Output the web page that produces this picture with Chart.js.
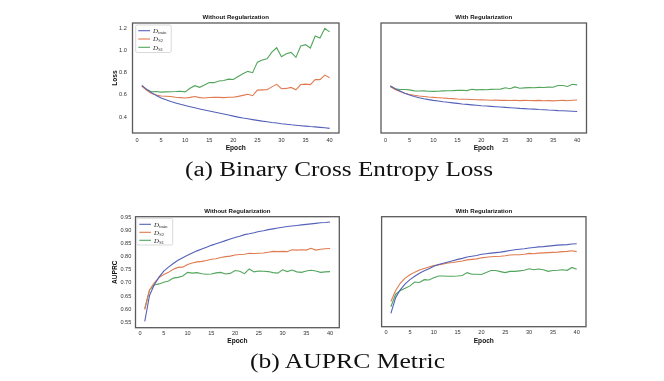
<!DOCTYPE html>
<html><head><meta charset="utf-8">
<script src="https://cdn.jsdelivr.net/npm/chart.js@4.4.0/dist/chart.umd.min.js"></script>
<style>
html,body{margin:0;padding:0;background:#fff;}
body{width:664px;height:381px;position:relative;overflow:hidden;}
canvas{position:absolute;}
.cap{position:absolute;font-family:"Liberation Serif","DejaVu Serif",serif;font-size:20px;line-height:20px;color:#111;white-space:nowrap;transform-origin:0 0;}
</style></head><body>
<canvas id="c1"></canvas><canvas id="c2"></canvas><canvas id="c3"></canvas><canvas id="c4"></canvas>
<div class="cap" id="capA">(a) Binary Cross Entropy Loss</div>
<div class="cap" id="capB">(b) AUPRC Metric</div>
<script>
// ---------- data ----------
const epochs = [1,2,3,4,5,6,7,8,9,10,11,12,13,14,15,16,17,18,19,20,21,22,23,24,25,26,27,28,29,30,31,32,33,34,35,36,37,38,39,40];
const xTicks = [0,5,10,15,20,25,30,35,40];
const lossTicks = [0.4,0.6,0.8,1.0,1.2];
const auprcTicks = [0.55,0.60,0.65,0.70,0.75,0.80,0.85,0.90,0.95];
const seriesNames = ["train","S2","S1"];
const panelTitles = ["Without Regularization","With Regularization"];

const trainLossNoReg = [0.685,0.650,0.620,0.595,0.572,0.555,0.540,0.527,0.515,0.504,0.493,0.483,0.473,0.464,0.455,0.446,0.437,0.428,0.418,0.408,0.399,0.391,0.384,0.377,0.370,0.363,0.357,0.351,0.346,0.340,0.335,0.330,0.326,0.322,0.318,0.314,0.311,0.307,0.303,0.298];
const s2LossNoReg = [0.680,0.640,0.612,0.598,0.590,0.588,0.585,0.578,0.575,0.572,0.577,0.585,0.575,0.572,0.576,0.578,0.577,0.575,0.578,0.578,0.586,0.595,0.605,0.592,0.643,0.645,0.646,0.672,0.695,0.655,0.658,0.667,0.645,0.693,0.697,0.692,0.738,0.737,0.778,0.755];
const s1LossNoReg = [0.680,0.645,0.628,0.630,0.625,0.627,0.628,0.630,0.633,0.627,0.660,0.683,0.668,0.688,0.712,0.710,0.725,0.730,0.742,0.738,0.765,0.790,0.812,0.800,0.895,0.915,0.925,0.985,1.025,0.943,0.970,0.983,0.938,1.040,1.053,1.022,1.130,1.112,1.200,1.168];

const trainLossReg = [0.680,0.655,0.635,0.615,0.598,0.585,0.574,0.565,0.557,0.550,0.544,0.538,0.533,0.528,0.523,0.518,0.514,0.510,0.506,0.502,0.499,0.496,0.493,0.490,0.487,0.484,0.481,0.478,0.476,0.473,0.471,0.468,0.466,0.463,0.461,0.458,0.456,0.454,0.452,0.450];
const s2LossReg = [0.672,0.648,0.630,0.615,0.603,0.596,0.590,0.585,0.580,0.577,0.574,0.571,0.568,0.566,0.563,0.561,0.560,0.558,0.556,0.555,0.554,0.552,0.553,0.550,0.551,0.549,0.552,0.548,0.550,0.549,0.548,0.550,0.547,0.548,0.546,0.549,0.550,0.547,0.551,0.553];
const s1LossReg = [0.680,0.655,0.648,0.648,0.645,0.636,0.635,0.636,0.633,0.631,0.633,0.636,0.637,0.638,0.640,0.641,0.638,0.650,0.645,0.648,0.646,0.649,0.650,0.652,0.664,0.655,0.672,0.660,0.663,0.665,0.664,0.667,0.666,0.670,0.668,0.685,0.684,0.675,0.695,0.690];

const trainAuprcNoReg = [0.553,0.652,0.693,0.722,0.745,0.760,0.774,0.786,0.796,0.805,0.814,0.822,0.829,0.836,0.843,0.849,0.855,0.861,0.867,0.873,0.878,0.884,0.887,0.891,0.896,0.899,0.903,0.906,0.909,0.912,0.915,0.917,0.919,0.921,0.923,0.925,0.927,0.929,0.930,0.932];
const s2AuprcNoReg = [0.598,0.673,0.700,0.720,0.732,0.740,0.752,0.759,0.760,0.770,0.776,0.780,0.782,0.785,0.790,0.792,0.797,0.800,0.802,0.806,0.808,0.809,0.813,0.812,0.813,0.814,0.817,0.820,0.819,0.820,0.819,0.826,0.825,0.826,0.825,0.832,0.825,0.828,0.830,0.831];
const s1AuprcNoReg = [0.603,0.673,0.692,0.696,0.702,0.707,0.718,0.721,0.726,0.740,0.737,0.739,0.735,0.733,0.734,0.738,0.740,0.734,0.736,0.747,0.744,0.735,0.753,0.742,0.745,0.744,0.743,0.739,0.737,0.750,0.743,0.749,0.742,0.740,0.745,0.748,0.745,0.740,0.742,0.743];

const trainAuprcReg = [0.580,0.641,0.672,0.694,0.710,0.723,0.735,0.744,0.752,0.762,0.768,0.773,0.778,0.783,0.788,0.792,0.797,0.800,0.803,0.808,0.810,0.812,0.814,0.816,0.819,0.822,0.825,0.827,0.829,0.832,0.834,0.836,0.837,0.839,0.841,0.843,0.844,0.845,0.847,0.848];
const s2AuprcReg = [0.626,0.668,0.697,0.716,0.729,0.739,0.747,0.753,0.759,0.764,0.767,0.770,0.774,0.776,0.779,0.782,0.786,0.788,0.790,0.794,0.796,0.798,0.799,0.800,0.802,0.805,0.806,0.806,0.808,0.811,0.810,0.812,0.813,0.814,0.815,0.816,0.818,0.819,0.821,0.818];
const s1AuprcReg = [0.606,0.654,0.668,0.677,0.686,0.701,0.699,0.710,0.709,0.717,0.724,0.724,0.723,0.723,0.724,0.726,0.737,0.731,0.731,0.730,0.738,0.745,0.745,0.741,0.737,0.742,0.742,0.744,0.746,0.752,0.748,0.751,0.748,0.742,0.745,0.746,0.748,0.746,0.757,0.750];

// ---------- styling ----------
const COLORS = ['#5461b8','#e07b4f','#52a65c'];
const TICK_FONT = {family:'"Liberation Sans", Arial, sans-serif', size:5.6};
const LABEL_FONT = {family:'"Liberation Sans", Arial, sans-serif', size:6.6, weight:'bold'};

const framePlugin = {
  id:'framePlugin',
  afterDraw(chart){
    const a = chart.chartArea, ctx = chart.ctx, o = chart.options.plugins.framePlugin;
    ctx.save();
    ctx.strokeStyle = '#5a5a5a'; ctx.lineWidth = 1.3;
    ctx.strokeRect(a.left, a.top, a.right-a.left, a.bottom-a.top);
    // panel title
    ctx.fillStyle = '#111';
    ctx.font = 'bold 6.1px "Liberation Sans", Arial, sans-serif';
    ctx.textAlign = 'center'; ctx.textBaseline = 'middle';
    ctx.fillText(o.title, (a.left+a.right)/2, a.top - o.titleGap);
    // legend
    if (o.legend) {
      const L = o.legend;
      const bx = a.left + L.dx, by = a.top + L.dy;
      ctx.fillStyle = 'rgba(255,255,255,0.85)';
      ctx.strokeStyle = '#cfcfcf'; ctx.lineWidth = 0.8;
      ctx.beginPath();
      if (ctx.roundRect) ctx.roundRect(bx, by, L.w, L.h, 1.5); else ctx.rect(bx, by, L.w, L.h);
      ctx.fill(); ctx.stroke();
      chart.data.datasets.forEach((ds, i) => {
        const y = by + L.row0 + i*L.rowGap;
        ctx.strokeStyle = ds.borderColor; ctx.lineWidth = 1.1;
        ctx.beginPath(); ctx.moveTo(bx+2.6, y); ctx.lineTo(bx+14.3, y); ctx.stroke();
        ctx.fillStyle = '#222'; ctx.textAlign = 'left'; ctx.textBaseline = 'alphabetic';
        ctx.font = 'italic 6.8px "Liberation Serif", serif';
        ctx.fillText('D', bx+17.4, y+2.2);
        const w = ctx.measureText('D').width;
        ctx.font = '4.4px "Liberation Serif", serif';
        ctx.fillText(seriesNames[i], bx+17.4+w+0.3, y+3.3);
      });
    }
    ctx.restore();
  }
};

function makeChart(id, g, data, yMin, yMax, yTicks, yDec, yLabel, title, legend) {
  const cv = document.getElementById(id);
  cv.width = g.w; cv.height = g.h;
  cv.style.left = g.left + 'px'; cv.style.top = g.top + 'px';
  const yWidth = g.area.l - g.left;
  const xHeight = g.top + g.h - g.area.b;
  const padRight = g.left + g.w - g.area.r;
  const padTop = g.area.t - g.top;
  return new Chart(cv, {
    type:'line',
    data:{ datasets: data.map((arr, i) => ({
      label: seriesNames[i],
      data: epochs.map((e, k) => ({x:e, y:arr[k]})),
      borderColor: COLORS[i], borderWidth: 1.1, pointRadius: 0, tension: 0, fill:false
    })) },
    options:{
      responsive:false, animation:false, devicePixelRatio:1,
      layout:{padding:{top:padTop, right:padRight, left:0, bottom:0}},
      plugins:{legend:{display:false}, tooltip:{enabled:false},
        framePlugin:{title:title, titleGap:g.titleGap, legend:legend}},
      scales:{
        x:{type:'linear', min:-0.95, max:41.95,
          afterBuildTicks:s=>{s.ticks = xTicks.map(v=>({value:v}));},
          ticks:{font:TICK_FONT, color:'#333', padding:g.xTickPad, maxRotation:0, autoSkip:false,
            callback:v=>String(v)},
          grid:{display:false, drawTicks:false}, border:{display:false},
          title:{display:true, text:'Epoch', font:LABEL_FONT, color:'#111', padding:{top:0,bottom:g.xTitlePad}},
          afterFit:s=>{s.height = xHeight;}
        },
        y:{type:'linear', min:yMin, max:yMax,
          afterBuildTicks:s=>{s.ticks = yTicks.map(v=>({value:v}));},
          ticks:{display: !!yLabel, font:TICK_FONT, color:'#333', padding:g.yTickPad,
            callback:v=>Number(v).toFixed(yDec)},
          grid:{display:false, drawTicks:false}, border:{display:false},
          title:{display: !!yLabel, text: yLabel || '', font:LABEL_FONT, color:'#111', padding:{top:g.yTitlePad, bottom:0}},
          afterFit:s=>{s.width = yWidth;}
        }
      }
    },
    plugins:[framePlugin]
  });
}

const lossMin = 0.256, lossMax = 1.248;
const aucMin = 0.529, aucMax = 0.9523;
const legTop = {dx:3.2, dy:2, w:35.5, h:27.5, row0:5.7, rowGap:8.3};
const legBot = {dx:1.2, dy:1.6, w:36, h:26.7, row0:6, rowGap:8};

makeChart('c1', {left:100, top:0, w:245, h:160, area:{l:132.5, t:23, r:339, b:133}, titleGap:5.4, xTickPad:4, xTitlePad:7.5, yTickPad:5.6, yTitlePad:11},
  [trainLossNoReg, s2LossNoReg, s1LossNoReg], lossMin, lossMax, lossTicks, 1, 'Loss', panelTitles[0], legTop);
makeChart('c2', {left:345, top:0, w:245, h:160, area:{l:381, t:23, r:586.5, b:133}, titleGap:5.4, xTickPad:4, xTitlePad:7.5, yTickPad:5, yTitlePad:11},
  [trainLossReg, s2LossReg, s1LossReg], lossMin, lossMax, lossTicks, 1, null, panelTitles[1], null);
makeChart('c3', {left:100, top:195, w:245, h:160, area:{l:135.5, t:216.7, r:339.3, b:327.7}, titleGap:5, xTickPad:2, xTitlePad:10, yTickPad:4.2, yTitlePad:11},
  [trainAuprcNoReg, s2AuprcNoReg, s1AuprcNoReg], aucMin, aucMax, auprcTicks, 2, 'AUPRC', panelTitles[0], legBot);
makeChart('c4', {left:345, top:195, w:245, h:160, area:{l:381.6, t:216.7, r:586, b:326.7}, titleGap:5, xTickPad:2, xTitlePad:10, yTickPad:4, yTitlePad:11},
  [trainAuprcReg, s2AuprcReg, s1AuprcReg], aucMin, aucMax, auprcTicks, 2, null, panelTitles[1], null);

function placeCap(id, x0, x1, top) {
  const el = document.getElementById(id);
  const w = el.getBoundingClientRect().width;
  el.style.left = x0 + 'px'; el.style.top = top + 'px';
  el.style.transform = 'scaleX(' + ((x1 - x0) / w) + ')';
}
placeCap('capA', 185, 493, 159);
placeCap('capB', 250, 445, 351);
</script>
</body></html>
